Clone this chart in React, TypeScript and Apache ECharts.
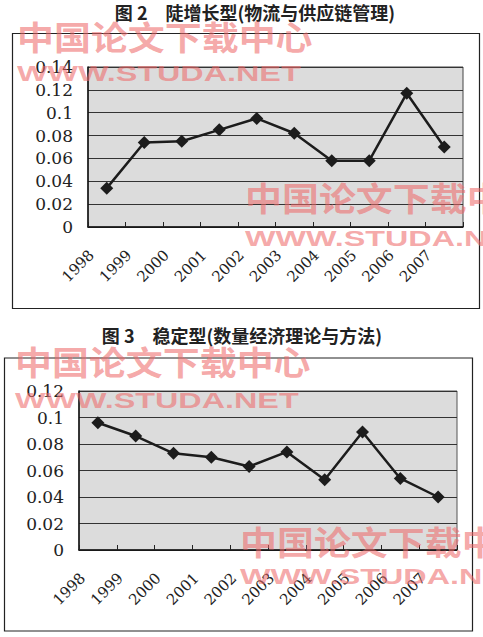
import React, { useEffect, useRef } from 'react';
import * as echarts from 'echarts';

const years = ['1998', '1999', '2000', '2001', '2002', '2003', '2004', '2005', '2006', '2007'];
const logisticsValues = [0.034, 0.074, 0.075, 0.085, 0.095, 0.082, 0.058, 0.058, 0.117, 0.07];
const economicsValues = [0.096, 0.086, 0.073, 0.07, 0.063, 0.074, 0.053, 0.089, 0.054, 0.04];
const title2Text = '图 2　陡增长型(物流与供应链管理)';
const title3Text = '图 3　稳定型(数量经济理论与方法)';
const chart1Max = 0.14;
const chart2Max = 0.12;
const yInterval = 0.02;
const watermarkCn = '中国论文下载中心';
const watermarkEn = 'WWW.STUDA.NET';

const fmt = (v: number) => (v === 0 ? '0' : String(parseFloat(v.toFixed(2))));

const ink = '#1c1c1c';
const wmColor = 'rgba(238, 105, 105, 0.58)';

function yAxisFor(gridIndex: number, max: number) {
  return {
    type: 'value',
    gridIndex,
    min: 0,
    max,
    interval: yInterval,
    axisLine: { show: true, lineStyle: { color: '#111', width: 1.5 } },
    axisTick: { show: false },
    splitLine: { show: true, lineStyle: { color: '#333', width: 1 } },
    axisLabel: {
      formatter: fmt,
      fontFamily: 'DejaVu Serif',
      fontSize: 17,
      color: '#222',
      margin: 15,
    },
  };
}

function xAxisFor(gridIndex: number) {
  return {
    type: 'category',
    gridIndex,
    data: years,
    boundaryGap: true,
    axisLine: { show: true, lineStyle: { color: '#111', width: 1.5 } },
    axisTick: { show: true, inside: true, length: 5, lineStyle: { color: '#222' } },
    axisLabel: {
      interval: 0,
      rotate: 45,
      margin: 21,
      align: 'right',
      verticalAlign: 'bottom',
      padding: [0, 14, 0, 0],
      fontFamily: 'DejaVu Serif',
      fontSize: 15,
      color: '#222',
    },
  };
}

function seriesFor(idx: number, data: number[]) {
  return {
    type: 'line',
    xAxisIndex: idx,
    yAxisIndex: idx,
    data,
    symbol: 'diamond',
    symbolSize: 13,
    lineStyle: { color: ink, width: 2.5 },
    itemStyle: { color: ink },
    z: 5,
  };
}

function wmCn(x: number, y: number) {
  return {
    type: 'text',
    x,
    y,
    scaleX: 1.12,
    z: 100,
    silent: true,
    style: {
      text: watermarkCn,
      x: 0,
      y: 0,
      fill: wmColor,
      font: 'bold 33px "Noto Sans CJK SC"',
      textVerticalAlign: 'top',
    },
  };
}

function wmEn(x: number, y: number) {
  return {
    type: 'text',
    x,
    y,
    scaleX: 1.47,
    z: 100,
    silent: true,
    style: {
      text: watermarkEn,
      x: 0,
      y: 0,
      fill: wmColor,
      font: 'bold 22px "Liberation Sans"',
      textVerticalAlign: 'top',
    },
  };
}

const titleStyle = { fontFamily: 'Noto Sans CJK SC', fontSize: 18, fontWeight: 'bold', color: '#222' };

export default function App() {
  const ref = useRef<HTMLDivElement>(null);
  useEffect(() => {
    if (!ref.current) return;
    const chart = echarts.init(ref.current, null, { renderer: 'svg' });
    chart.setOption({
      animation: false,
      backgroundColor: '#ffffff',
      title: [
        { text: title2Text, left: 250, top: -2, textAlign: 'center', textStyle: titleStyle },
        { text: title3Text, left: 237, top: 321, textAlign: 'center', textStyle: titleStyle },
      ],
      grid: [
        {
          left: 88,
          top: 67,
          width: 375,
          height: 160,
          show: true,
          backgroundColor: '#dcdcdc',
          borderColor: '#444',
          borderWidth: 1,
        },
        {
          left: 79,
          top: 391,
          width: 378,
          height: 159,
          show: true,
          backgroundColor: '#dcdcdc',
          borderColor: '#555',
          borderWidth: 1,
        },
      ],
      xAxis: [xAxisFor(0), xAxisFor(1)],
      yAxis: [yAxisFor(0, chart1Max), yAxisFor(1, chart2Max)],
      series: [seriesFor(0, logisticsValues), seriesFor(1, economicsValues)],
      graphic: [
        {
          type: 'rect',
          shape: { x: 12.5, y: 33.5, width: 467, height: 275 },
          style: { fill: 'none', stroke: '#222', lineWidth: 1.2 },
          z: 1,
          silent: true,
        },
        {
          type: 'rect',
          shape: { x: 4.5, y: 358, width: 468, height: 273 },
          style: { fill: 'none', stroke: '#222', lineWidth: 1.2 },
          z: 1,
          silent: true,
        },
        wmCn(17, 19),
        wmEn(17, 62),
        wmCn(245, 180),
        wmEn(245, 227),
        wmCn(15, 344),
        wmEn(15, 389),
        wmCn(240, 524),
        wmEn(240, 565),
      ],
    });
    return () => chart.dispose();
  }, []);
  return <div ref={ref} style={{ position: 'absolute', left: 0, top: 0, width: 483, height: 637 }} />;
}
